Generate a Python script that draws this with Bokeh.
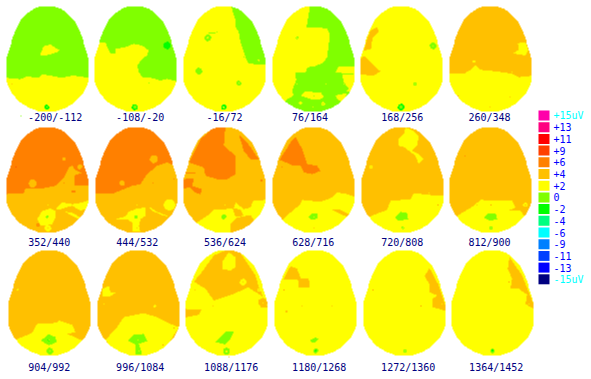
import numpy as np
from bokeh.embed import file_html
from bokeh.models import LinearColorMapper, Range1d
from bokeh.plotting import figure
from bokeh.resources import INLINE
from bokeh.core.properties import value

LEGEND_LABELS = ["+15uV", "+13", "+11", "+9", "+6", "+4", "+2", "0", "-2", "-4", "-6", "-9", "-11", "-13", "-15uV"]
LEGEND_LEVELS = [15, 13, 11, 9, 6, 4, 2, 0, -2, -4, -6, -9, -11, -13, -15]
LEGEND_COLORS = ["#ff00aa", "#ff0080", "#ff0000", "#ff4000", "#ff8000", "#ffc000", "#ffff00", "#80ff00",
                 "#00ff00", "#00ff80", "#00ffff", "#0080ff", "#0040ff", "#0000ff", "#000080"]
LEGEND_TEXT = ["#00ffff"] + ["#0000ff"] * 13 + ["#00ffff"]

WINDOW_LABELS = ["-200/-112", "-108/-20", "-16/72", "76/164", "168/256", "260/348",
                 "352/440", "444/532", "536/624", "628/716", "720/808", "812/900",
                 "904/992", "996/1084", "1088/1176", "1180/1268", "1272/1360", "1364/1452"]
LABEL_X = [54.7, 139.7, 224, 309.5, 401.7, 489,
           48.7, 136.7, 224.5, 312.7, 401.7, 489,
           48.7, 139.7, 230.7, 318.7, 407.7, 495.7]
LABEL_Y = [117] * 6 + [242] * 6 + [367] * 6

# Head outline: depth from the crown, half width (pixels)
EGG_DY = [0, 2, 6, 14, 22, 31, 40, 48, 53, 75, 80, 86, 91, 96, 101, 104, 105]
EGG_HW = [7, 13, 19, 27, 31, 35, 37, 40, 41, 41, 39, 36, 32, 27, 19, 11, 8]

# Each map: source frame x, y, head left, head top, background level, regions
# Regions: (level, polygon) or (level, cx, cy, r)
map_01 = (0, 0, 18, 18, 0, [
    (2, [(18,232),(60,236),(80,228),(115,232),(125,222),(150,225),(185,232),(215,225),(270,232),(270,340),(10,340)]),
    (2, [(118,165),(125,148),(128,138),(150,132),(165,142),(178,150),(165,157),(150,162),(135,165)]),
    (-2, 139, 320, 7), (2, 139, 320, 2), (2, 60, 213, 1.5), (4, 35, 250, 1.5), (4, 243, 250, 1.5), (0, 141, 142, 1.5)])
map_02 = (0, 0, 282, 18, 0, [
    (2, [(285,130),(300,125),(315,127),(325,150),(330,160),(345,160),(345,145),(375,140),(400,130),(425,135),(445,150),(440,165),(425,175),(410,195),(415,215),(425,230),(445,230),(480,240),(500,235),(530,243),(530,340),(275,340),(275,130)]),
    (-2, 500, 135, 11), (-2, 403, 320, 9), (0, 403, 320, 5), (0, 445, 183, 1.5), (0, 445, 248, 2.5), (0, 405, 142, 1.5), (0, 507, 250, 1.5)])
map_03 = (180, 0, 9, 18, 2, [
    (0, [(150,10),(165,60),(165,80),(175,95),(178,115),(185,140),(195,170),(205,190),(260,192),(270,192),(270,10)]),
    (2, 235, 179, 3),
    (0, 82, 112, 10), (2, 82, 112, 3), (0, 55, 212, 10), (0, 175, 248, 7), (2, 175, 248, 2), (-2, 130, 320, 8), (2, 130, 320, 3),
    (0, [(85,96),(105,96),(105,99),(85,99)]), (0, 110, 95, 2), (0, 133, 57, 1.5), (0, 190, 170, 1.5)])
map_04 = (180, 0, 276, 18, 2, [
    (0, [(388,10),(385,40),(378,80),(410,80),(440,85),(448,100),(445,130),(440,170),(430,185),(405,197),(382,200),(375,215),(345,215),(347,240),(335,270),(340,285),(315,300),(300,345),(400,345),(500,345),(535,300),(535,10)]),
    (2, [(470,205),(475,197),(530,197),(530,218),(485,218),(465,215)]),
    (2, [(485,222),(530,220),(530,290),(510,275),(498,272),(505,265),(490,245)]),
    (2, [(465,285),(500,278),(485,305),(470,295)]),
    (2, [(360,285),(375,272),(400,275),(420,275),(430,290),(415,298),(395,298),(375,290)]),
    (0, 400, 286, 2), (2, 428, 310, 6), (0, 428, 310, 2), (2, 360, 308, 5), (2, 397, 319, 1.5), (0, 350, 112, 4), (2, 350, 112, 1.5),
    (2, 400, 57, 1.5), (2, 437, 183, 1.5), (2, 350, 250, 1.5), (2, 437, 250, 1.5), (2, 490, 250, 1.5)])
map_05 = (355, 0, 15, 18, 2, [
    (4, [(45,90),(65,80),(70,95),(50,115),(48,145),(25,150),(35,115)]),
    (4, [(18,170),(30,168),(45,185),(65,205),(75,212),(55,225),(10,222),(10,195)]),
    (0, 233, 136, 10), (2, 233, 136, 2), (0, 178, 250, 5), (2, 178, 250, 2), (-2, 137, 320, 10), (0, 137, 320, 5)])
map_06 = (355, 0, 282, 18, 4, [
    (2, [(275,218),(325,220),(345,208),(360,195),(375,208),(400,210),(440,215),(470,220),(490,230),(535,225),(535,340),(275,340)]),
    (2, [(487,128),(510,125),(518,150),(510,165),(480,160),(470,160),(490,148)]),
    (2, 355, 183, 4), (4, 355, 183, 1.5), (6, 307, 287, 1.5), (4, 463, 290, 1.5), (4, 403, 320, 1.5), (2, 470, 215, 1.5), (4, 510, 145, 1.5)])
map_07 = (0, 122, 18, 15, 6, [
    (4, [(10,215),(70,212),(75,197),(130,197),(165,190),(190,165),(205,135),(215,130),(225,142),(243,152),(222,158),(222,190),(270,190),(270,340),(10,340)]),
    (4, 97, 183, 12), (4, 190, 110, 5), (4, 238, 133, 7),
    (6, [(213,205),(226,205),(226,211),(213,211)]), (6, 218, 192, 1.5), (6, 190, 181, 1.5),
    (2, [(110,290),(125,265),(150,258),(165,265),(165,285),(155,305),(120,310)]),
    (2, [(165,258),(185,240),(215,245),(245,240),(270,232),(255,260),(240,265),(215,250),(195,255),(175,262)]),
    (2, [(195,268),(215,270),(240,285),(235,290),(210,278)]),
    (2, 142, 317, 10), (4, 142, 317, 2), (0, 140, 283, 4), (6, 112, 308, 5), (4, 112, 308, 2),
    (9, 46, 133, 1.5), (2, 142, 247, 1.5)])
map_08 = (0, 122, 285, 15, 6, [
    (4, [(275,215),(340,212),(370,200),(395,190),(420,185),(440,155),(470,130),(500,120),(535,135),(535,340),(275,340)]),
    (4, 460, 110, 12), (4, 365, 182, 8), (9, 375, 108, 1.5), (9, 312, 133, 1.5), (6, 458, 181, 1.5), (6, 520, 170, 2),
    (2, [(345,290),(375,282),(385,268),(410,258),(435,255),(435,280),(420,290),(415,310),(420,328),(395,328),(395,300),(380,290)]),
    (2, [(445,252),(470,268),(505,282),(490,280),(455,265)]),
    (2, 507, 247, 17), (0, 407, 283, 5), (4, 410, 317, 2), (2, 410, 247, 1.5)])
map_09 = (180, 122, 9, 15, 4, [
    (6, [(135,10),(130,70),(165,100),(165,155),(140,170),(110,170),(75,160),(70,135),(25,120),(60,50),(100,15)]),
    (6, [(5,170),(40,168),(35,190),(65,200),(60,215),(45,210),(30,195),(5,198)]),
    (6, [(175,35),(200,60),(235,110),(210,110),(190,85)]),
    (6, [(10,149),(45,149),(45,152),(10,152)]), (6, 243, 175, 3),
    (2, [(50,300),(80,280),(100,262),(160,258),(165,240),(190,260),(210,255),(218,235),(255,232),(260,255),(230,285),(225,300),(190,340),(100,340),(40,320)]),
    (4, [(150,340),(150,305),(170,285),(210,278),(225,300),(200,330)]),
    (4, [(155,255),(180,262),(190,280),(165,282)]),
    (0, 130, 283, 7), (2, 133, 247, 1.5)])
map_10 = (180, 122, 276, 15, 4, [
    (6, [(345,42),(365,80),(380,125),(410,130),(420,145),(395,155),(370,150),(360,128),(340,130),(297,112),(330,60)]),
    (2, [(305,295),(330,270),(360,245),(365,232),(420,238),(455,225),(470,210),(500,215),(530,225),(530,300),(450,340),(350,340)]),
    (4, [(450,260),(480,262),(505,275),(500,283),(470,270)]),
    (0, [(383,285),(395,272),(410,274),(412,288),(395,292)]), (2, 400, 283, 1.5), (6, 305, 133, 1.5), (4, 400, 317, 1.5)])
map_11 = (355, 122, 18, 15, 4, [
    (2, [(150,15),(175,25),(190,40),(185,70),(170,85),(190,95),(205,110),(190,125),(180,100),(160,85),(150,75),(130,70),(130,50),(145,35)]),
    (2, [(40,283),(95,262),(105,235),(165,230),(175,212),(230,218),(270,220),(270,270),(220,340),(130,340),(40,310)]),
    (0, [(118,285),(135,268),(155,272),(158,290),(130,295)]),
    (2, 46, 133, 5), (4, 46, 133, 2), (0, 142, 316, 4), (2, 142, 316, 1.5), (4, 219, 270, 2), (6, 247, 247, 1.5), (2, 220, 212, 1.5)])
map_12 = (355, 122, 282, 15, 4, [
    (2, [(305,280),(355,250),(375,232),(430,235),(470,235),(480,255),(458,265),(495,265),(510,285),(480,340),(400,340),(320,320)]),
    (2, 510, 247, 6), (4, 510, 247, 2), (2, 503, 247, 2),
    (0, [(385,285),(400,272),(420,272),(425,290),(405,295)]), (4, 405, 283, 1.5),
    (0, 406, 316, 5), (2, 406, 316, 2), (6, 406, 247, 2.5), (6, 328, 100, 1.5), (4, 365, 247, 2)])
map_13 = (0, 245, 24, 15, 4, [
    (2, [(45,283),(95,262),(110,235),(170,232),(175,225),(215,238),(225,260),(200,265),(245,285),(215,340),(130,340),(50,315)]),
    (0, [(122,285),(145,266),(165,275),(168,290),(145,300)]), (-2, 145, 284, 3), (2, 145, 284, 1.5),
    (0, 148, 317, 10), (2, 148, 317, 2), (2, 52, 133, 3), (6, 60, 83, 1.5)])
map_14 = (0, 245, 291, 15, 4, [
    (2, [(315,283),(350,245),(370,215),(430,203),(470,215),(510,235),(535,245),(510,285),(470,340),(400,340),(345,325)]),
    (2, [(305,130),(325,122),(330,140),(345,142),(330,152),(305,152)]),
    (0, [(382,285),(400,268),(430,265),(440,287),(415,295),(425,325),(405,328),(405,297)]),
    (2, 412, 284, 2), (2, 415, 317, 1.5), (2, 463, 182, 4), (2, 310, 175, 1.5), (6, 488, 298, 1.5), (6, 520, 247, 1.5)])
map_15 = (180, 245, 15, 15, 2, [
    (4, [(40,108),(60,85),(100,30),(135,15),(175,15),(225,90),(235,125),(262,185),(240,185),(232,165),(250,155),(210,130),(205,125),(160,145),(100,165),(75,130)]),
    (4, 248, 172, 13), (2, 248, 172, 1.5),
    (2, [(125,70),(125,50),(145,20),(165,35),(165,65),(150,75)]),
    (2, 188, 110, 10), (4, 188, 110, 2), (2, 235, 133, 5), (4, 235, 133, 2),
    (4, [(10,190),(62,193),(55,208),(10,217)]),
    (0, [(105,290),(125,270),(135,258),(160,258),(150,280),(135,297)]),
    (0, 138, 317, 10), (2, 138, 317, 3), (4, 97, 181, 1.5), (4, 44, 133, 1.5), (6, 60, 92, 1.5)])
map_16 = (180, 245, 282, 15, 2, [
    (4, [(308,103),(330,62),(350,70),(362,103)]),
    (4, [(352,100),(385,100),(387,125),(355,125)]),
    (0, [(388,285),(405,275),(413,280),(405,290),(395,292)]), (2, 402, 284, 1.5),
    (0, 406, 316, 7), (-2, 406, 316, 3),
    (6, 310, 133, 1.5), (4, 365, 181, 1.5), (4, 454, 181, 1.5), (6, 300, 205, 1.5), (4, 318, 198, 2.5), (4, 333, 213, 1.5)])
map_17 = (355, 245, 24, 15, 2, [
    (4, [(222,68),(207,92),(222,115),(222,140),(245,150),(232,160),(232,185),(275,197),(250,120)]),
    (0, 148, 316, 5), (2, 148, 316, 2), (6, 52, 133, 1.5), (6, 105, 181, 1.5), (6, 196, 181, 1.5), (2, 260, 175, 1.5)])
map_18 = (355, 245, 288, 15, 2, [
    (4, [(462,35),(457,70),(470,100),(465,130),(490,130),(515,148),(510,175),(525,185),(540,190),(500,90)]),
    (0, 411, 316, 7), (-2, 411, 316, 3), (4, 418, 15, 1.5), (6, 460, 110, 1.5), (2, 520, 175, 1.5)])
MAPS = [map_01, map_02, map_03, map_04, map_05, map_06, map_07, map_08, map_09,
        map_10, map_11, map_12, map_13, map_14, map_15, map_16, map_17, map_18]

W, H = 591, 379
STRAY = [(20.5, 115.5, 0), (228.5, 356.5, 4)]  # isolated pixels: x, y, level


def inside(px, py, poly):
    poly = np.asarray(poly, dtype=float)
    x0, y0 = poly[:, 0], poly[:, 1]
    x1, y1 = np.roll(x0, -1), np.roll(y0, -1)
    res = np.zeros(px.shape, dtype=bool)
    for a, b, c, d in zip(x0, y0, x1, y1):
        if b == d:
            continue
        cross = ((b > py) != (d > py)) & (px < (c - a) * (py - b) / (d - b) + a)
        res ^= cross
    return res


level_index = {lv: i + 1 for i, lv in enumerate(LEGEND_LEVELS)}
grid = np.zeros((H, W), dtype=np.float32)
jj, ii = np.mgrid[0:H, 0:W]
for (fx, fy, left, top, base, regions) in MAPS:
    L, T = fx + left / 3, fy + top / 3
    x0, y0 = int(L) - 2, int(T) - 2
    pi, pj = ii[y0:y0 + 112, x0:x0 + 88], jj[y0:y0 + 112, x0:x0 + 88]
    zx, zy = (pi + 0.5 - fx) * 3, (pj + 0.5 - fy) * 3
    tile = np.full(pi.shape, level_index[base], dtype=np.float32)
    for reg in regions:
        if len(reg) == 2:
            m = inside(zx, zy, reg[1])
        else:
            m = (zx - reg[1]) ** 2 + (zy - reg[2]) ** 2 <= reg[3] ** 2
        tile[m] = level_index[reg[0]]
    cx = L + 41
    outline = [(cx - h, T + d) for d, h in zip(EGG_DY, EGG_HW)] + [(cx + h, T + d) for d, h in zip(EGG_DY[::-1], EGG_HW[::-1])]
    mask = inside(pi + 0.5, pj + 0.5, outline)
    grid[y0:y0 + 112, x0:x0 + 88][mask] = tile[mask]
for sx, sy, lv in STRAY:
    grid[int(sy), int(sx)] = level_index[lv]

p = figure(width=W, height=H, x_range=Range1d(0, W), y_range=Range1d(0, H),
           toolbar_location=None, output_backend="svg", min_border=0)
p.axis.visible = False
p.grid.visible = False
p.outline_line_color = None
p.styles = {"position": "absolute", "left": "0px", "top": "0px"}

mapper = LinearColorMapper(palette=["#ffffff"] + LEGEND_COLORS, low=-0.5, high=15.5)
p.image(image=[np.flipud(grid)], x=0, y=0, dw=W, dh=H, color_mapper=mapper)

p.text(x=LABEL_X, y=[H - v for v in LABEL_Y], text=WINDOW_LABELS, text_color="#000080",
       text_font=value("DejaVu Sans Mono"), text_font_size="10px", text_align="center", text_baseline="middle")

ly = [115 + 11.7 * i for i in range(len(LEGEND_LABELS))]
p.quad(left=538, right=549, top=[H - v + 5 for v in ly], bottom=[H - v - 5 for v in ly],
       fill_color=LEGEND_COLORS, line_color=None)
p.text(x=553, y=[H - v for v in ly], text=LEGEND_LABELS, text_color=LEGEND_TEXT,
       text_font=value("DejaVu Sans Mono"), text_font_size="10px", text_align="left", text_baseline="middle")

open("out.html", "w").write(file_html(p, INLINE))
